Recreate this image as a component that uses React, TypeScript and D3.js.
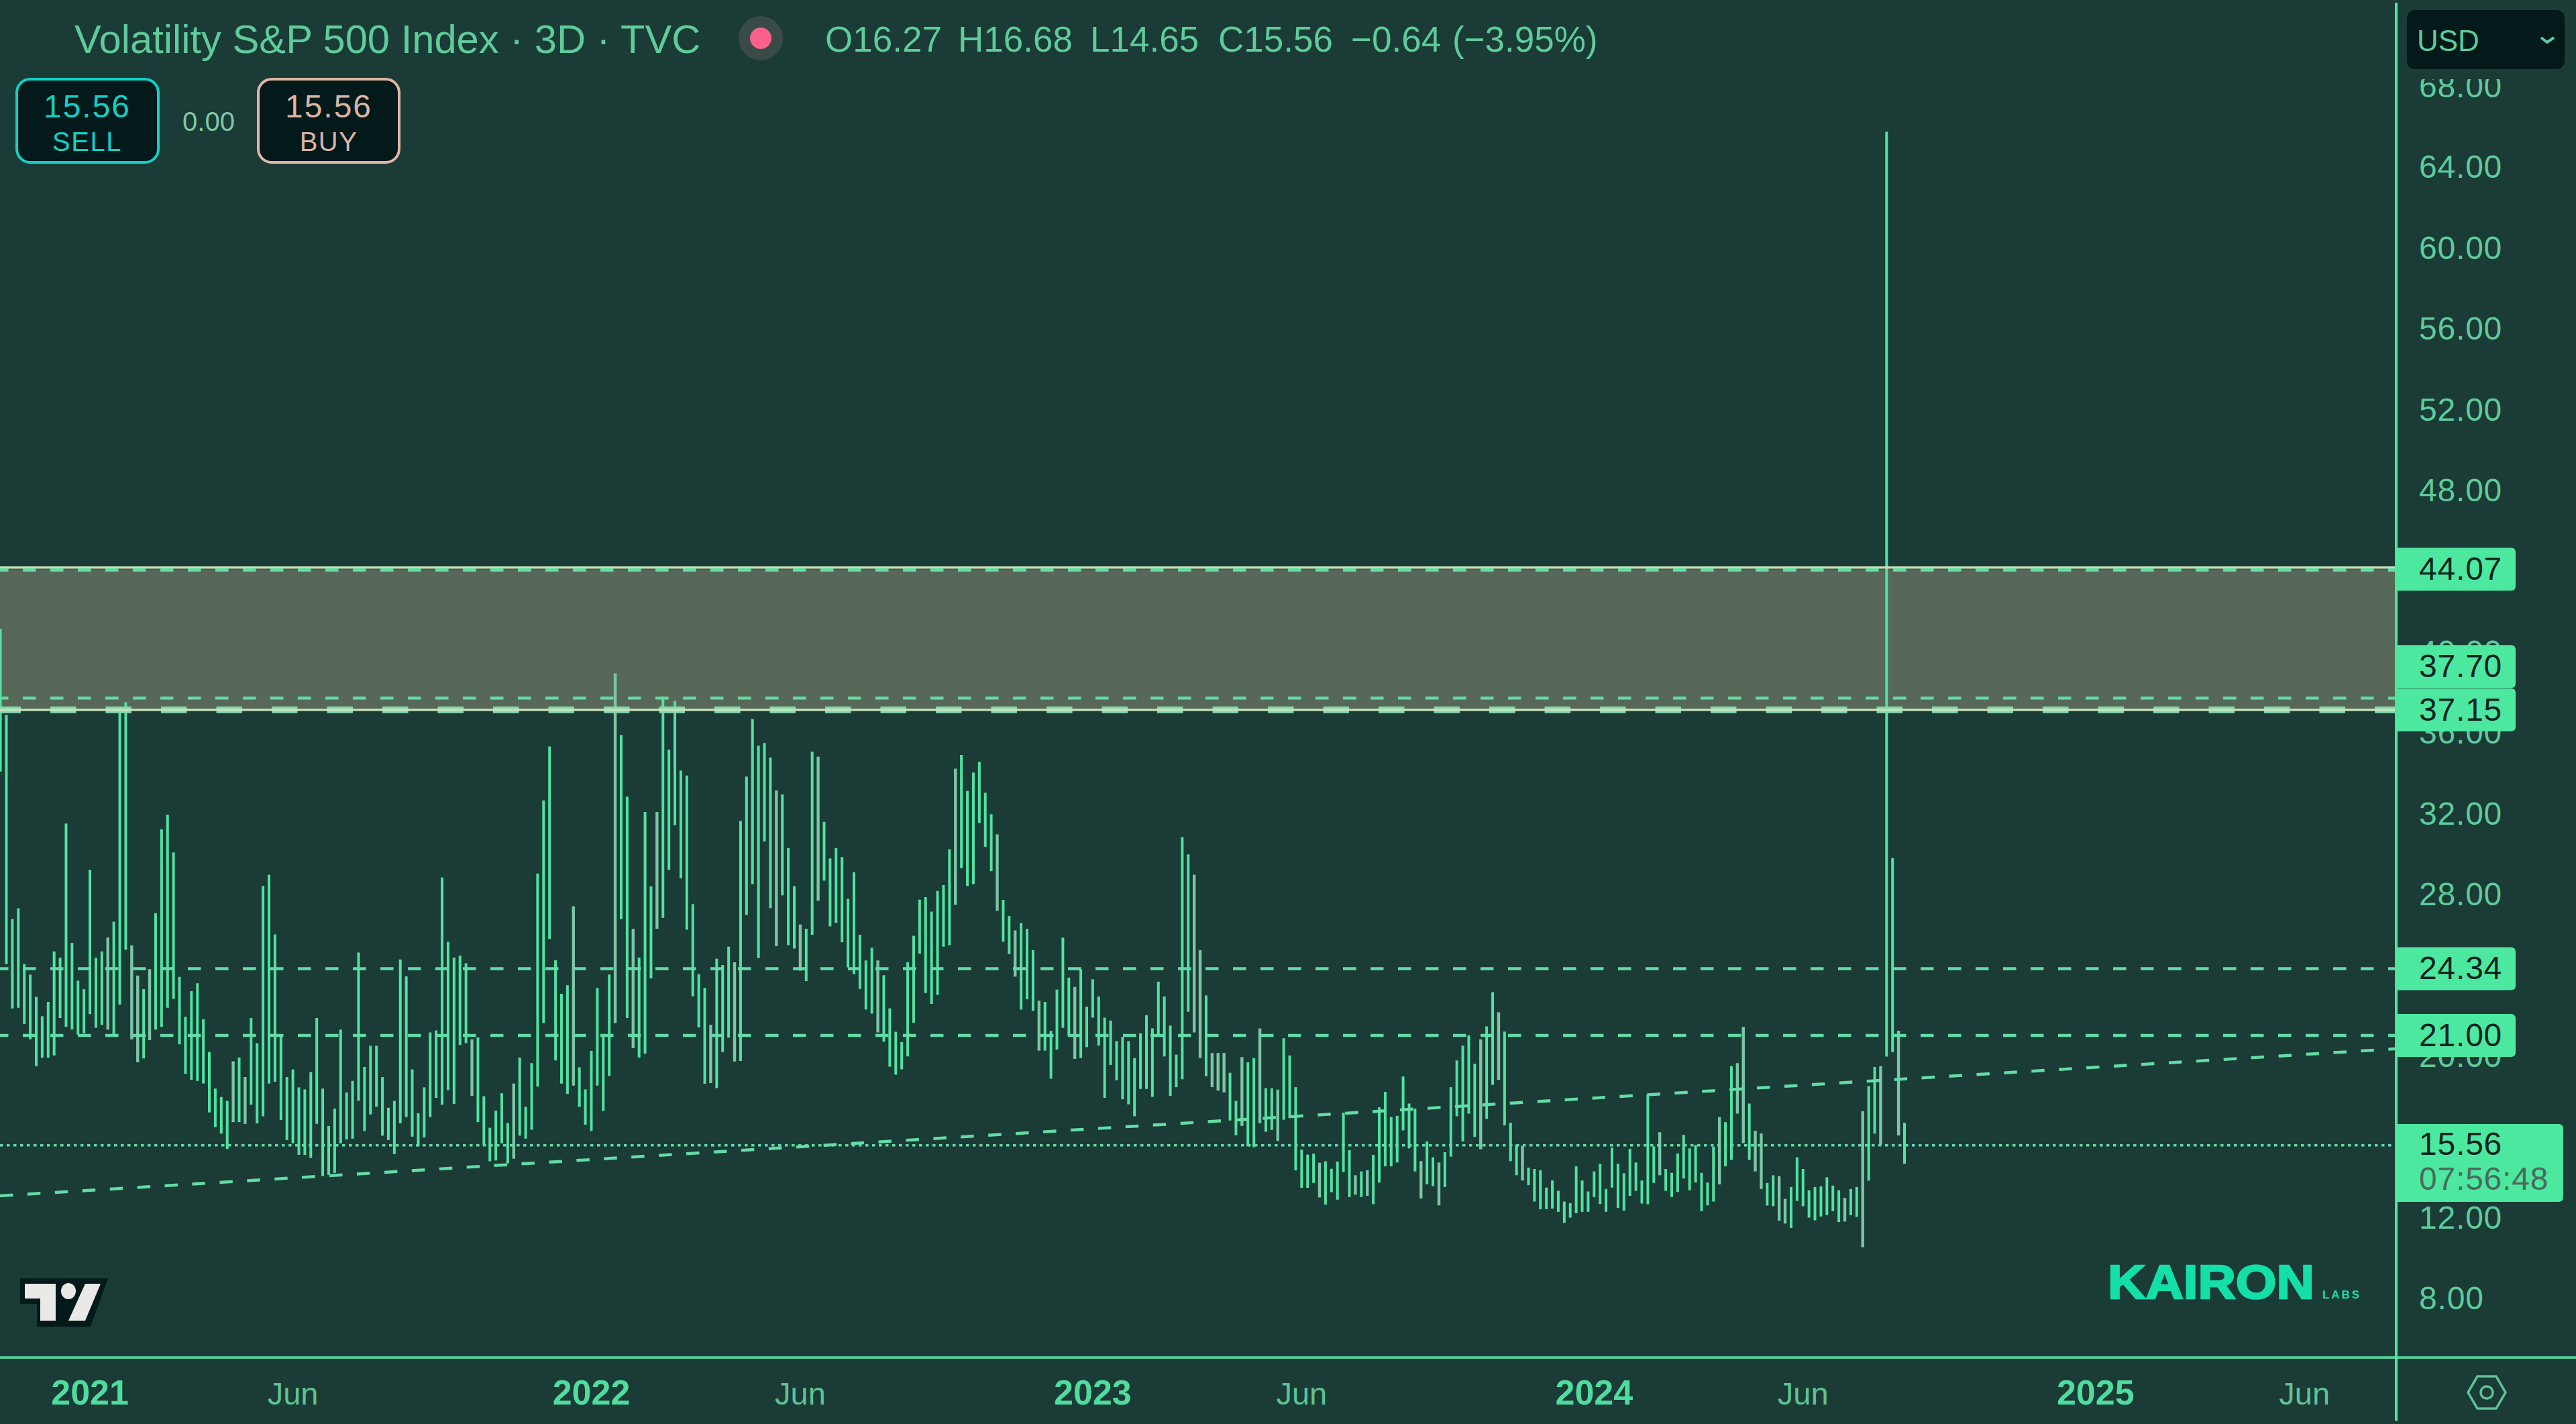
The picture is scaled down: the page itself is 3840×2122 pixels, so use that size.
import React from "react";
import * as d3 from "d3";

const highs = [
41.12,36.86,26.76,27.29,24.53,24.01,22.91,21.95,22.66,25.16,
24.85,31.49,25.58,23.71,23.29,29.20,24.85,25.16,25.85,26.63,
37.11,37.49,25.46,23.96,23.29,24.28,27.05,31.20,31.93,30.06,
23.90,21.92,23.19,23.58,21.80,20.18,18.37,17.95,17.76,19.72,
19.91,18.94,21.86,20.62,28.40,28.95,26.00,21.00,18.94,19.32,
18.43,18.33,19.19,21.86,18.37,16.52,17.38,21.29,18.18,18.75,
25.10,19.44,20.49,20.49,18.94,17.42,17.76,24.76,23.92,19.32,
17.15,18.43,21.15,21.25,28.82,25.63,24.85,24.95,24.57,20.81,
20.90,17.99,16.43,17.28,18.14,16.67,18.62,19.91,17.47,19.63,
29.01,32.63,35.30,24.72,23.06,23.48,27.39,19.42,18.33,20.24,
23.35,21.00,24.01,38.92,35.87,32.82,26.28,24.85,32.06,28.38,
32.06,37.78,35.15,37.54,34.11,33.86,27.50,24.03,23.35,21.52,
24.79,24.49,25.39,24.62,31.62,33.81,36.66,35.34,35.47,34.76,
33.13,32.93,30.27,28.39,26.49,26.28,35.05,34.79,31.57,29.76,
30.27,29.83,27.76,29.08,25.98,24.71,25.34,24.71,23.98,22.34,
21.18,20.67,24.62,25.93,27.72,27.84,27.13,28.15,28.44,30.22,
34.20,34.88,33.10,34.01,34.54,33.01,31.95,30.95,27.71,26.91,
26.20,26.57,26.28,25.22,22.72,22.66,21.23,23.27,25.84,23.86,
23.40,24.28,22.42,23.78,22.93,21.88,21.74,20.72,20.93,20.72,
19.88,21.11,22.00,21.35,23.66,22.93,21.49,20.05,30.81,29.96,
28.95,25.22,22.98,20.13,20.13,20.13,19.15,17.76,19.93,19.67,
19.88,21.35,18.39,18.39,18.32,20.86,20.01,18.44,15.35,15.10,
15.15,14.70,14.77,14.40,14.76,17.18,15.32,14.08,14.27,14.33,
15.09,17.44,18.21,16.96,17.02,18.97,17.63,17.38,14.78,15.75,
14.97,14.71,15.22,18.44,19.76,20.49,21.00,19.60,20.81,21.45,
23.14,22.15,21.19,16.68,15.60,15.54,14.46,14.39,14.33,13.47,
13.82,13.31,12.78,12.70,14.52,13.82,13.28,14.27,14.65,13.40,
15.45,14.65,14.18,15.39,14.71,13.82,18.08,15.51,16.21,14.39,
14.20,15.16,16.08,15.41,15.58,14.20,13.72,15.50,16.96,16.71,
19.48,19.63,21.42,17.63,16.28,16.15,13.70,14.08,14.04,12.91,
13.50,14.97,14.39,13.34,13.50,13.53,13.98,13.57,13.34,12.96,
13.40,13.50,17.25,18.50,19.44,19.48,65.73,29.78,21.23,16.68,
];

const lows = [
34.06,24.53,22.34,22.37,21.57,20.81,19.48,19.90,19.90,20.01,
21.86,21.42,21.29,21.04,21.10,22.05,21.38,21.53,21.29,21.00,
22.53,25.24,20.81,19.67,19.86,20.77,21.29,21.42,22.37,22.81,
20.56,19.10,18.81,18.75,18.62,17.19,16.47,16.14,15.38,16.71,
16.71,16.62,17.57,16.65,17.00,18.62,18.71,16.81,15.82,15.66,
15.09,15.09,14.94,16.62,14.04,14.10,14.20,15.66,15.85,15.89,
17.76,16.27,17.09,17.47,16.04,15.82,15.13,16.65,16.96,15.99,
15.51,15.95,16.96,17.91,17.57,18.29,17.61,20.53,20.62,18.01,
16.71,15.57,14.77,14.81,15.66,14.67,14.90,16.04,15.89,16.33,
18.47,21.61,25.77,19.76,18.62,18.10,18.52,17.47,16.58,16.27,
18.52,17.26,19.00,21.61,26.76,21.86,20.37,19.90,20.10,23.82,
26.28,26.82,29.20,31.40,28.78,26.23,22.93,21.40,18.61,18.64,
18.39,20.18,20.89,19.71,19.74,26.96,28.49,24.83,30.61,27.30,
25.42,27.93,25.47,25.30,24.20,23.69,25.98,27.67,28.66,26.40,
26.57,25.61,24.37,24.03,23.30,22.28,22.08,21.15,20.69,19.45,
19.06,19.32,19.96,21.62,25.05,23.10,22.56,23.01,25.39,25.47,
27.47,29.28,28.40,28.49,31.52,30.34,29.13,27.17,25.64,25.03,
23.91,22.28,22.79,22.22,20.25,20.25,18.86,20.30,21.37,20.98,
19.84,19.88,20.42,21.88,20.50,17.91,19.54,18.78,17.84,17.59,
17.00,18.35,18.35,17.96,21.06,19.96,18.01,18.44,18.83,22.17,
21.15,19.88,18.98,18.44,18.27,18.18,16.79,16.06,16.52,15.51,
15.47,16.66,16.23,16.32,15.78,16.83,16.91,14.32,13.46,13.46,
13.70,12.98,12.63,13.24,12.87,14.24,13.00,13.12,13.00,13.06,
12.65,13.72,14.52,14.52,14.71,16.30,15.41,14.27,12.93,13.63,
13.54,12.59,13.50,15.00,17.00,15.75,17.13,15.98,15.37,16.87,
18.55,18.80,16.55,14.78,14.08,13.82,13.59,12.78,12.40,12.40,
12.43,12.27,11.73,11.98,12.20,12.27,12.27,13.00,12.65,12.27,
13.47,12.46,12.32,13.06,13.31,12.68,12.65,13.70,14.08,13.31,
13.00,13.25,13.92,13.34,13.72,12.30,12.59,12.78,13.63,14.52,
14.84,17.13,15.67,14.84,14.27,13.40,12.58,12.55,11.83,11.69,
11.47,12.81,12.55,11.98,11.85,12.04,12.11,12.30,11.76,11.79,
12.11,12.02,10.52,13.82,16.14,15.60,19.95,20.18,16.05,14.65,
];

const mutedBars = [18,22,23,25,39,41,79,86,96,103,106,110,119,123,130,134,137,147,160,167,170,174,180,200,201,203,204,205,208,211,214,221,227,229,238,241,248,251,255,278,288,291,292,294,295,298,299,309,312,315,318];

const priceTicks = [68,64,60,56,52,48,40,36,32,28,20,12,8];
const timeTicks = [
  { label: "2021", bar: 15, year: true }, { label: "Jun", bar: 49, year: false },
  { label: "2022", bar: 99, year: true }, { label: "Jun", bar: 134, year: false },
  { label: "2023", bar: 183, year: true }, { label: "Jun", bar: 218, year: false },
  { label: "2024", bar: 267, year: true }, { label: "Jun", bar: 302, year: false },
  { label: "2025", bar: 351, year: true }, { label: "Jun", bar: 386, year: false },
];
const zoneTop = 44.07;
const zoneMid = 37.7;
const zoneBottom = 37.15;
const levelLines = [24.34, 21.0];
const lastPrice = 15.56;
const trendBars = [-0.07, 401.4];
const trendPrices = [13.06, 20.34];
const axisLabels = [
  { text: "44.07", price: 44.07, shift: 0 },
  { text: "37.70", price: 37.7, shift: -47 },
  { text: "37.15", price: 37.15, shift: 1 },
  { text: "24.34", price: 24.34, shift: 1 },
  { text: "21.00", price: 21.0, shift: 0 },
];
const ohlcParts = [
  { text: "O16.27", x: 1230 }, { text: "H16.68", x: 1428 }, { text: "L14.65", x: 1625 },
  { text: "C15.56", x: 1816 }, { text: "−0.64", x: 2014 }, { text: "(−3.95%)", x: 2165 },
];

const W = 3840, H = 2122, PANE_R = 3572, AXIS_Y = 2023;
const BG = "#1a3b36", BRIGHT = "#50e3a1", MUTED = "#7cc6a6", DASH = "#63dca6", TEXT = "#5fcb9b";
const LABEL_BG = "#4de89f", DARK = "#03191a";
const FONT = "'Liberation Sans', Arial, sans-serif";

export default function App() {
  const x = d3.scaleLinear().domain([0, 319]).range([0.6, 2839]);
  const y = d3.scaleLinear().domain([8, 64]).range([1934.4, 248.3]);
  const muted = new Set(mutedBars);
  const trend = d3.line<number>().x((b) => x(b)).y((_, i) => y(trendPrices[i]))(trendBars) as string;
  document.body.style.margin = "0";
  document.body.style.background = BG;

  const hLine = (v: number, d: string, c: string, w: number, off: number, dy = 0) => (
    <line x1={0} x2={PANE_R} y1={y(v) + dy} y2={y(v) + dy} stroke={c} strokeWidth={w} strokeDasharray={d} strokeDashoffset={off} />
  );

  return (
    <svg width={W} height={H} viewBox={`0 0 ${W} ${H}`} style={{ position: "fixed", left: 0, top: 0, display: "block" }} fontFamily={FONT}>
      <rect width={W} height={H} fill={BG} />
      <rect x={0} y={y(zoneTop)} width={PANE_R} height={y(zoneBottom) - y(zoneTop)} fill="#576859" />

      <g>
        {highs.map((h, i) => (
          <line key={i} x1={x(i)} x2={x(i)} y1={y(h)} y2={y(lows[i])}
            stroke={muted.has(i) ? MUTED : BRIGHT} strokeWidth={muted.has(i) ? 4.4 : 4} />
        ))}
      </g>

      {hLine(zoneTop, "", "#c8e0ba", 3.5, 0, -2.7)}
      {hLine(zoneTop, "19.5 21.5", DASH, 5, 7, 1)}
      {hLine(zoneMid, "19.5 21.5", DASH, 4.5, 7)}
      {hLine(zoneBottom, "38.5 44", "#83d9ac", 10, 7.5, 1)}
      {hLine(zoneBottom, "", "#c8e0ba", 3.5, 0, 1)}
      {levelLines.map((v) => <g key={v}>{hLine(v, "19.5 21.5", DASH, 4.5, 7, v === 24.34 ? 1 : 0)}</g>)}
      {hLine(lastPrice, "4.5 5.5", DASH, 3.5, 0)}
      <path d={trend} fill="none" stroke={DASH} strokeWidth={4.5} strokeDasharray="19.5 21.5" />

      {/* axes */}
      <line x1={0} x2={W} y1={AXIS_Y} y2={AXIS_Y} stroke="#55c596" strokeWidth={4} />
      <line x1={PANE_R} x2={PANE_R} y1={4} y2={2117} stroke={BRIGHT} strokeWidth={4} />

      {priceTicks.map((p) => (
        <text key={p} x={3606} y={y(p) + 17} fontSize={48} letterSpacing={0.8} fill={TEXT}>{p.toFixed(2)}</text>
      ))}
      {timeTicks.map((t, i) => (
        <text key={i} x={x(t.bar)} y={2093} textAnchor="middle" fontSize={t.year ? 52 : 47}
          fontWeight={t.year ? 700 : 400} fill={t.year ? "#4fdc9e" : "#5ec295"}>{t.label}</text>
      ))}

      {/* axis price labels */}
      {axisLabels.map((l) => (
        <g key={l.text}>
          <path d={roundRight(PANE_R, y(l.price) + l.shift - 32, 178, 64, 7)} fill={LABEL_BG} />
          <text x={3606} y={y(l.price) + l.shift + 16} fontSize={48} letterSpacing={0.8} fill="#0a2322">{l.text}</text>
        </g>
      ))}
      <path d={roundRight(PANE_R, 1675, 249, 116, 7)} fill={LABEL_BG} />
      <text x={3606} y={1721} fontSize={48} letterSpacing={0.8} fill="#0a2322">15.56</text>
      <text x={3606} y={1773} fontSize={48} letterSpacing={0.8} fill="#4a6a5e">07:56:48</text>

      {/* USD selector */}
      <rect x={3576} y={0} width={264} height={118} fill={BG} />
      <rect x={3588} y={15} width={235} height={88} rx={12} fill={DARK} />
      <text x={3603} y={76} fontSize={44} fill={TEXT}>USD</text>
      <path d="M3788 56 L3797 63 L3807 56" fill="none" stroke={TEXT} strokeWidth={4} />

      {/* header */}
      <text x={111} y={79} fontSize={59.7} fill={TEXT}>Volatility S&amp;P 500 Index · 3D · TVC</text>
      <circle cx={1134} cy={57} r={33} fill="#3a4a47" />
      <circle cx={1134} cy={57} r={16} fill="#f7628a" />
      {ohlcParts.map((o) => (
        <text key={o.text} x={o.x} y={77} fontSize={53} fill={TEXT}>{o.text}</text>
      ))}

      {/* buy / sell */}
      <rect x={25} y={118} width={211} height={124} rx={20} fill={DARK} stroke="#14cfc8" strokeWidth={4} />
      <text x={130} y={175} textAnchor="middle" fontSize={48} letterSpacing={2} fill="#12d0c6">15.56</text>
      <text x={130} y={225} textAnchor="middle" fontSize={40} letterSpacing={1.5} fill="#12d0c6">SELL</text>
      <text x={311} y={195} textAnchor="middle" fontSize={40} fill="#7fc8a5">0.00</text>
      <rect x={385} y={118} width={210} height={124} rx={20} fill={DARK} stroke="#e0b7a6" strokeWidth={4} />
      <text x={490} y={175} textAnchor="middle" fontSize={48} letterSpacing={2} fill="#dcb4a3">15.56</text>
      <text x={490} y={225} textAnchor="middle" fontSize={40} letterSpacing={1.5} fill="#dcb4a3">BUY</text>

      {/* TradingView logo */}
      <polygon points="30,1905 161,1905 135,1977 55,1977 55,1943 30,1943" fill={DARK} />
      <polygon points="37,1913 83,1913 83,1968 60,1968 60,1935 37,1935" fill="#e9e9e7" />
      <ellipse cx={102} cy={1924} rx={11} ry={12} fill="#e9e9e7" />
      <polygon points="127,1913 150,1913 127,1968 102,1968" fill="#e9e9e7" />

      {/* Kairon watermark */}
      <text x={3142} y={1934.5} fontSize={70} fontWeight={700} fill="#14dfa8" stroke="#14dfa8" strokeWidth={2.5} textLength={308} lengthAdjust="spacingAndGlyphs">KAIRON</text>
      <text x={3462} y={1934.5} fontSize={17} fontWeight={700} fill="#14dfa8" textLength={55} lengthAdjust="spacing">LABS</text>

      {/* settings icon */}
      <polygon points="3679,2075 3693,2051 3721,2051 3735,2075 3721,2099 3693,2099" fill="none" stroke="#5ec295" strokeWidth={3.5} />
      <circle cx={3707} cy={2075} r={9} fill="none" stroke="#5ec295" strokeWidth={3.5} />
    </svg>
  );
}

function roundRight(x0: number, y0: number, w: number, h: number, r: number) {
  const p = d3.path();
  p.moveTo(x0, y0);
  p.lineTo(x0 + w - r, y0);
  p.quadraticCurveTo(x0 + w, y0, x0 + w, y0 + r);
  p.lineTo(x0 + w, y0 + h - r);
  p.quadraticCurveTo(x0 + w, y0 + h, x0 + w - r, y0 + h);
  p.lineTo(x0, y0 + h);
  p.closePath();
  return p.toString();
}
